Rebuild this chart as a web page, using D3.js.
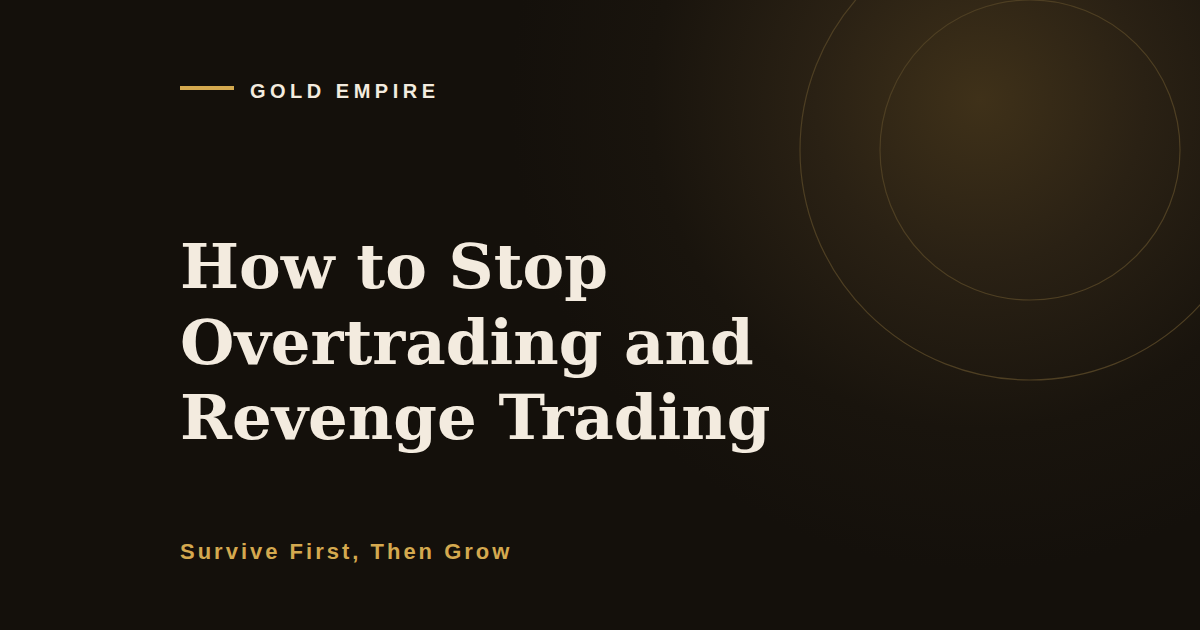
<!DOCTYPE html>
<html>
<head>
<meta charset="utf-8">
<script src="https://cdn.jsdelivr.net/npm/d3@7"></script>
<style>
  html, body { margin: 0; padding: 0; background: #14100b; }
  svg { display: block; }
</style>
</head>
<body>
<div class="canvas"></div>
<script>
const width = 1200;
const height = 630;

// text content
const brand = "GOLD EMPIRE";
const titleLines = ["How to Stop", "Overtrading and", "Revenge Trading"];
const subtitle = "Survive First, Then Grow";

// decorative rings (radius values)
const ringRadii = [150, 230];

const gold = "#d4a94f";
const cream = "#f3ebdf";

const svg = d3.select(".canvas")
  .append("svg")
  .attr("width", width)
  .attr("height", height);

const defs = svg.append("defs");

const glow = defs.append("radialGradient")
  .attr("id", "glow")
  .attr("gradientUnits", "userSpaceOnUse")
  .attr("cx", 980)
  .attr("cy", 100)
  .attr("r", 470);

glow.append("stop").attr("offset", "0%").attr("stop-color", "#3f3119");
glow.append("stop").attr("offset", "35%").attr("stop-color", "#2a2114");
glow.append("stop").attr("offset", "70%").attr("stop-color", "#19140d");
glow.append("stop").attr("offset", "100%").attr("stop-color", "#14100b");

svg.append("rect")
  .attr("width", width)
  .attr("height", height)
  .attr("fill", "#14100b");

svg.append("rect")
  .attr("width", width)
  .attr("height", height)
  .attr("fill", "url(#glow)");

svg.selectAll("circle.ring")
  .data(ringRadii)
  .enter()
  .append("circle")
  .attr("class", "ring")
  .attr("cx", 1030)
  .attr("cy", 150)
  .attr("r", d => d)
  .attr("fill", "none")
  .attr("stroke", "#4e3f23")
  .attr("stroke-width", 1.2);

// brand row
svg.append("line")
  .attr("x1", 180)
  .attr("x2", 234)
  .attr("y1", 88)
  .attr("y2", 88)
  .attr("stroke", gold)
  .attr("stroke-width", 4);

svg.append("text")
  .attr("x", 250)
  .attr("y", 97.5)
  .attr("fill", cream)
  .style("font-family", "'Liberation Sans', Arial, sans-serif")
  .style("font-weight", "bold")
  .style("font-size", "20px")
  .style("letter-spacing", "4.5px")
  .text(brand);

// title
svg.append("g")
  .selectAll("text")
  .data(titleLines)
  .enter()
  .append("text")
  .attr("x", 180)
  .attr("y", (d, i) => 288 + i * 75.5)
  .attr("fill", cream)
  .style("font-family", "'DejaVu Serif', serif")
  .style("font-weight", "bold")
  .style("font-size", "62.5px")
  .text(d => d);

// subtitle
svg.append("text")
  .attr("x", 180)
  .attr("y", 559)
  .attr("fill", gold)
  .style("font-family", "'Liberation Sans', Arial, sans-serif")
  .style("font-weight", "bold")
  .style("font-size", "22px")
  .style("letter-spacing", "3px")
  .text(subtitle);
</script>
</body>
</html>
